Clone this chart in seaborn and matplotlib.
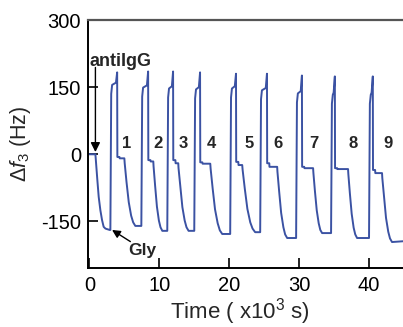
import matplotlib
matplotlib.use("Agg")
import matplotlib.pyplot as plt
import seaborn as sns
import pandas as pd

# ---- data (time in 10^3 s, frequency shift in Hz) ----
time_ks = [
    -0.2, 0.86, 1.0, 1.14, 1.33, 1.57, 1.81, 2.04, 2.3, 2.9,
    # cycle 1
    3.0, 3.12, 3.25, 3.8, 3.97, 4.0, 4.3, 4.33, 5.0,
    5.05, 5.31, 5.63, 5.97, 6.26, 6.57,
    # cycle 2
    7.43, 7.55, 7.68, 8.23, 8.4, 8.43, 8.73, 8.76, 9.14,
    9.18, 9.40, 9.66, 9.94, 10.17, 10.43,
    # cycle 3
    11.14, 11.26, 11.39, 11.8, 11.97, 12.0, 12.3, 12.33, 12.71,
    12.75, 13.01, 13.30, 13.63, 13.89, 14.19,
    # cycle 4
    15.0, 15.12, 15.25, 15.66, 15.83, 15.86, 16.16, 16.19, 17.29,
    17.34, 17.63, 17.97, 18.35, 18.66, 19.0,
    # cycle 5
    20.14, 20.26, 20.39, 20.8, 20.97, 21.0, 21.3, 21.33, 21.86,
    21.92, 22.23, 22.6, 23.01, 23.34, 23.71,
    # cycle 6
    24.43, 24.55, 24.68, 25.23, 25.4, 25.43, 25.73, 25.76, 26.86,
    26.9, 27.15, 27.43, 27.75, 28.0, 28.29,
    # cycle 7
    29.57, 29.69, 29.82, 30.23, 30.4, 30.43, 30.73, 30.76, 32.0,
    32.04, 32.26, 32.52, 32.8, 33.03, 33.29,
    # cycle 8
    34.57, 34.69, 34.82, 34.94, 35.11, 35.14, 35.44, 35.47, 37.0,
    37.04, 37.26, 37.52, 37.8, 38.03, 38.29,
    # cycle 9
    40.0, 40.12, 40.25, 40.37, 40.54, 40.57, 40.87, 40.9, 41.86,
    41.9, 42.15, 42.43, 42.75, 43.0, 43.29, 46.0,
]
delta_f3 = [
    0, 0, -30, -58, -95, -125, -147, -162, -166, -169,
    -169, 135, 155, 160, 183, -6, -6, -9, -9,
    -20, -62, -107, -137, -152, -160,
    -160, 129, 149, 154, 185, -13, -13, -16, -16,
    -27, -70, -117, -148, -163, -171,
    -171, 127, 147, 152, 185, -13, -13, -20, -20,
    -31, -73, -118, -148, -163, -171,
    -171, 125, 145, 150, 183, -18, -18, -21, -21,
    -32, -76, -123, -154, -170, -178,
    -178, 127, 147, 152, 180, -17, -17, -24, -24,
    -35, -77, -122, -152, -166, -174,
    -174, 123, 143, 148, 180, -20, -20, -28, -28,
    -39, -84, -131, -163, -179, -187,
    -187, 116, 136, 141, 176, -28, -28, -31, -31,
    -41, -82, -125, -154, -169, -176,
    -176, 113, 133, 138, 174, -31, -31, -33, -33,
    -44, -87, -133, -164, -179, -187,
    -187, 113, 133, 138, 174, -35, -35, -42, -42,
    -53, -96, -142, -173, -188, -196, -193,
]

cycle_labels = ["1", "2", "3", "4", "5", "6", "7", "8", "9"]
cycle_label_t = [5.39, 9.86, 13.43, 17.43, 22.86, 27.0, 32.14, 37.71, 42.71]
cycle_label_f = 24

x_ticks = [0, 10, 20, 30, 40]
y_ticks = [-150, 0, 150, 300]
y_ticklabels = ["-150", "0", "150", "300"]

df = pd.DataFrame({"t": time_ks, "f": delta_f3})

# ---- style ----
sns.set_style("ticks")
plt.rcParams["font.family"] = ["Liberation Sans", "DejaVu Sans"]
plt.rcParams["mathtext.fontset"] = "custom"
plt.rcParams["mathtext.rm"] = "Liberation Sans"
plt.rcParams["mathtext.it"] = "Liberation Sans:italic"
plt.rcParams["mathtext.bf"] = "Liberation Sans:bold"

fig = plt.figure(figsize=(4.03, 3.27), dpi=100)
ax = fig.add_axes([88 / 403, 1 - 268 / 327, 1 - 88 / 403, (268 - 20) / 327])

sns.lineplot(data=df, x="t", y="f", ax=ax, color="#3B52A3", lw=1.4,
             sort=False, estimator=None)

ax.set_xlim(-0.2, 44.86)
ax.set_ylim(-254, 300)
ax.set_xticks(x_ticks)
ax.set_yticks(y_ticks)
ax.set_yticklabels(y_ticklabels)
ax.tick_params(direction="in", length=7, width=1.2, labelsize=14.5, pad=5,
               colors="black")
ax.tick_params(axis="x", pad=6)

for side in ["left", "bottom"]:
    ax.spines[side].set_linewidth(1.4)
    ax.spines[side].set_color("black")
ax.spines["top"].set_visible(True)
ax.spines["top"].set_color("#555555")
ax.spines["top"].set_linewidth(1.6)
ax.spines["right"].set_visible(False)

ax.set_xlabel(r"Time ( x10$^3$ s)", fontsize=16)
ax.xaxis.set_label_coords(0.483, -0.115)
ax.set_ylabel(r"$\Delta f_3$ (Hz)", fontsize=15.5)
ax.yaxis.set_label_coords(-0.175, 0.5)

# cycle numbers
for lab, tx in zip(cycle_labels, cycle_label_t):
    ax.text(tx, cycle_label_f, lab, fontsize=12, fontweight="bold",
            ha="center", va="center")

# antiIgG annotation
ax.text(0.05, 198, "antiIgG", fontsize=13, fontweight="bold",
        ha="left", va="baseline")
ax.annotate("", xy=(0.86, 5), xytext=(0.86, 194),
            arrowprops=dict(arrowstyle="-|>", color="black", lw=1.0,
                            mutation_scale=14, shrinkA=0, shrinkB=0))

# Gly annotation
ax.text(7.5, -216, "Gly", fontsize=12.5, fontweight="bold",
        ha="center", va="center")
ax.annotate("", xy=(3.24, -169), xytext=(5.86, -195),
            arrowprops=dict(arrowstyle="-|>", color="black", lw=1.0,
                            mutation_scale=12, shrinkA=0, shrinkB=0))

fig.savefig("out.png", dpi=100)
